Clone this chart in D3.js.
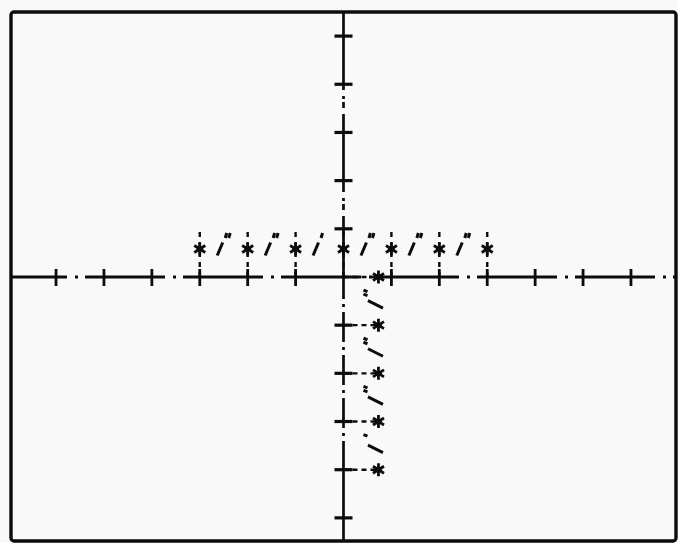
<!DOCTYPE html>
<html><head><meta charset="utf-8">
<script src="https://cdn.jsdelivr.net/npm/d3@7"></script>
<style>html,body{margin:0;padding:0;background:#f9f9f9;} svg{display:block}</style>
</head><body>
<svg id="c" width="678" height="543"></svg>
<script>
// ---- data ----
const xTicks = [-6,-5,-4,-3,-2,-1,1,2,3,4,5,6];
const yTicks = [-5,-4,-3,-2,-1,1,2,3,4,5];
const rowX = [-3,-2,-1,0,1,2,3];
const rowY = 0.58;
const colX = 0.73;
const colY = [0,-1,-2,-3,-4];
const rowMarkX = [-2.5,-1.5,-0.5,0.5,1.5,2.5];
const rowMarkQuotes = [2,2,1,2,2,2];
const colMarkY = [-0.5,-1.5,-2.5,-3.5];
const colMarkQuotes = [2,2,2,1];

// ---- layout ----
const W = 678, H = 543;
const frame = {x0: 11, y0: 12, x1: 676, y1: 541};
const x = d3.scaleLinear().domain([-6.94, 6.94]).range([frame.x0, frame.x1]);
const y = d3.scaleLinear().domain([-5.48, 5.5]).range([frame.y1, frame.y0]);
const ink = "#0c0c0c";

const svg = d3.select("#c");
svg.append("rect").attr("width", W).attr("height", H).attr("fill", "#f9f9f9");

// frame
svg.append("rect")
  .attr("x", frame.x0).attr("y", frame.y0)
  .attr("width", frame.x1 - frame.x0).attr("height", frame.y1 - frame.y0)
  .attr("rx", 3)
  .attr("fill", "none").attr("stroke", ink).attr("stroke-width", 3.4);

const g = svg.append("g").attr("stroke", ink).attr("fill", "none").attr("stroke-linecap", "butt");

// x axis (dash-dot)
g.append("line")
  .attr("x1", x.range()[0]).attr("x2", x.range()[1])
  .attr("y1", y(0)).attr("y2", y(0))
  .attr("stroke-width", 3)
  .attr("stroke-dasharray", "80,8,3,7")
  .attr("stroke-dashoffset", 24);

// y axis upper half
g.append("line")
  .attr("x1", x(0)).attr("x2", x(0))
  .attr("y1", y.range()[1]).attr("y2", y(0))
  .attr("stroke-width", 2.7)
  .attr("stroke-dasharray", "78,6,3,3,6,6");

// y axis lower half
g.append("line")
  .attr("x1", x(0)).attr("x2", x(0))
  .attr("y1", y(0)).attr("y2", y(-3.9))
  .attr("stroke-width", 2.7)
  .attr("stroke-dasharray", "30,5,3,5")
  .attr("stroke-dashoffset", 8);
g.append("line")
  .attr("x1", x(0)).attr("x2", x(0))
  .attr("y1", y(-3.9)).attr("y2", y.range()[0])
  .attr("stroke-width", 2.7);

// axis ticks
g.selectAll("line.xt").data(xTicks).join("line").attr("class", "xt")
  .attr("x1", d => x(d)).attr("x2", d => x(d))
  .attr("y1", y(0) - 8).attr("y2", y(0) + 9)
  .attr("stroke-width", 2.8);
g.selectAll("line.yt").data(yTicks).join("line").attr("class", "yt")
  .attr("y1", d => y(d)).attr("y2", d => y(d))
  .attr("x1", x(0) - 9).attr("x2", x(0) + 9)
  .attr("stroke-width", 3.2);

// drop lines for row points (vertical, dashed)
g.selectAll("line.rd").data(rowX).join("line").attr("class", "rd")
  .attr("x1", d => x(d)).attr("x2", d => x(d))
  .attr("y1", y(rowY) - 17).attr("y2", y(0))
  .attr("stroke-width", 2.4)
  .attr("stroke-dasharray", "5,5");

// drop lines for column points (horizontal, dashed)
g.selectAll("line.cd").data(colY).join("line").attr("class", "cd")
  .attr("x1", x(0)).attr("x2", x(colX))
  .attr("y1", d => y(d)).attr("y2", d => y(d))
  .attr("stroke-width", 2.4)
  .attr("stroke-dasharray", "5,4");

// asterisk symbol
function asterisk(cx, cy) {
  const p = d3.path();
  p.moveTo(cx, cy - 6.5); p.lineTo(cx, cy + 6.5);
  p.moveTo(cx - 5.5, cy - 3.5); p.lineTo(cx + 5.5, cy + 3.5);
  p.moveTo(cx - 5.5, cy + 3.5); p.lineTo(cx + 5.5, cy - 3.5);
  p.moveTo(cx - 3.5, cy); p.lineTo(cx + 3.5, cy);
  return p.toString();
}

g.selectAll("path.ra").data(rowX).join("path").attr("class", "ra")
  .attr("d", d => asterisk(x(d), y(rowY)))
  .attr("stroke-width", 2.8);
g.selectAll("path.ca").data(colY).join("path").attr("class", "ca")
  .attr("d", d => asterisk(x(colX), y(d)))
  .attr("stroke-width", 2.8);

// row glyphs: slash + ditto marks
function rowGlyph(cx, cy, n) {
  const p = d3.path();
  p.moveTo(cx - 6.5, cy + 6.5); p.lineTo(cx - 1, cy - 6.5);
  for (let i = 0; i < n; i++) {
    const dx = 1.5 + 3.5 * i;
    p.moveTo(cx + dx, cy - 11); p.lineTo(cx + dx + 1.5, cy - 16);
  }
  return p.toString();
}
function colGlyph(cx, cy, n) {
  const p = d3.path();
  p.moveTo(cx - 10.5, cy - 0.5); p.lineTo(cx + 4.5, cy + 7);
  for (let i = 0; i < n; i++) {
    const dy = -11 + 4 * i;
    p.moveTo(cx - 15, cy + dy); p.lineTo(cx - 11, cy + dy + 1.5);
  }
  return p.toString();
}
g.selectAll("path.rg").data(rowMarkX).join("path").attr("class", "rg")
  .attr("d", (d, i) => rowGlyph(x(d), y(rowY), rowMarkQuotes[i]))
  .attr("stroke-width", 3);
g.selectAll("path.cg").data(colMarkY).join("path").attr("class", "cg")
  .attr("d", (d, i) => colGlyph(x(colX), y(d), colMarkQuotes[i]))
  .attr("stroke-width", 3);
</script>
</body></html>
